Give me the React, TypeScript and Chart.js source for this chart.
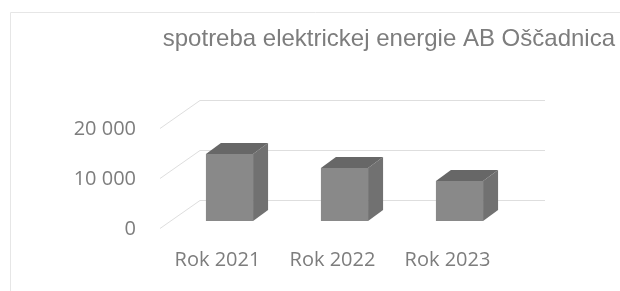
import React, { useEffect, useRef } from "react";
import { Chart, registerables } from "chart.js";

Chart.register(...registerables);

const TITLE = "spotreba elektrickej energie AB Oščadnica";
const categories = ["Rok 2021", "Rok 2022", "Rok 2023"];
const consumption = [13400, 10600, 8000];
const yTickValues = [0, 10000, 20000];
const yTickLabels = ["0", "10 000", "20 000"];

const FRONT_COLOR = "#898989";
const SIDE_COLOR = "#717171";
const TOP_COLOR = "#676767";
const GRID_COLOR = "#dedede";
const TEXT_COLOR = "#7d7d7d";

const BAR_DEPTH = { dx: 15, dy: -11 };
const WALL_OFFSET = { dx: 28, dy: -21 };
const FLOOR_EDGE = { dx: -12, dy: 7 };

const threeDPlugin = {
  id: "threeD",
  beforeDraw(chart: any) {
    const { ctx } = chart;
    ctx.save();
    ctx.fillStyle = "#ffffff";
    ctx.fillRect(0, 0, chart.width, chart.height);
    ctx.strokeStyle = "#e6e6e6";
    ctx.lineWidth = 1;
    ctx.beginPath();
    ctx.moveTo(10.5, chart.height);
    ctx.lineTo(10.5, 12.5);
    ctx.lineTo(chart.width, 12.5);
    ctx.stroke();
    ctx.restore();
  },
  beforeDatasetsDraw(chart: any) {
    const { ctx, chartArea: a, scales } = chart;
    const y = scales.y;
    ctx.save();
    ctx.strokeStyle = GRID_COLOR;
    ctx.lineWidth = 1;
    y.ticks.forEach((t: any) => {
      const py = Math.round(y.getPixelForValue(t.value)) + 0.5;
      ctx.beginPath();
      ctx.moveTo(a.left + FLOOR_EDGE.dx, py + FLOOR_EDGE.dy);
      ctx.lineTo(a.left + WALL_OFFSET.dx, py + WALL_OFFSET.dy);
      ctx.lineTo(a.right + WALL_OFFSET.dx, py + WALL_OFFSET.dy);
      ctx.stroke();
    });
    ctx.restore();
  },
  afterDatasetsDraw(chart: any) {
    const { ctx } = chart;
    const meta = chart.getDatasetMeta(0);
    const { dx, dy } = BAR_DEPTH;
    ctx.save();
    meta.data.forEach((bar: any) => {
      const { x, y, base, width } = bar.getProps(["x", "y", "base", "width"], true);
      const l = x - width / 2;
      const r = x + width / 2;
      ctx.fillStyle = SIDE_COLOR;
      ctx.beginPath();
      ctx.moveTo(r, y);
      ctx.lineTo(r + dx, y + dy);
      ctx.lineTo(r + dx, base + dy);
      ctx.lineTo(r, base);
      ctx.closePath();
      ctx.fill();
      ctx.fillStyle = TOP_COLOR;
      ctx.beginPath();
      ctx.moveTo(l, y);
      ctx.lineTo(l + dx, y + dy);
      ctx.lineTo(r + dx, y + dy);
      ctx.lineTo(r, y);
      ctx.closePath();
      ctx.fill();
    });
    ctx.restore();
  },
  afterDraw(chart: any) {
    const { ctx } = chart;
    ctx.save();
    ctx.fillStyle = TEXT_COLOR;
    ctx.font = "24px 'Liberation Sans'";
    ctx.textAlign = "right";
    ctx.textBaseline = "alphabetic";
    ctx.fillText(TITLE, 615, 46);
    ctx.restore();
  },
};

export default function App() {
  const ref = useRef<HTMLCanvasElement>(null);

  useEffect(() => {
    if (!ref.current) return;
    const font = { family: "'Open Sans'", size: 20 };
    const chart = new Chart(ref.current, {
      type: "bar",
      data: {
        labels: categories,
        datasets: [
          {
            label: TITLE,
            data: consumption,
            backgroundColor: FRONT_COLOR,
            borderWidth: 0,
            categoryPercentage: 1,
            barPercentage: 0.41,
          },
        ],
      },
      options: {
        responsive: false,
        animation: false,
        devicePixelRatio: 1,
        layout: { padding: { top: 121, right: 103, bottom: 0, left: 0 } },
        plugins: {
          legend: { display: false },
          title: { display: false },
          tooltip: { enabled: false },
        },
        scales: {
          x: {
            grid: { display: false, drawTicks: false },
            border: { display: false },
            ticks: { padding: 27, labelOffset: -12, font, color: TEXT_COLOR, maxRotation: 0 },
            afterFit: (s: any) => {
              s.height = 70;
            },
          },
          y: {
            min: 0,
            max: 20000,
            afterBuildTicks: (s: any) => {
              s.ticks = yTickValues.map((v) => ({ value: v }));
            },
            grid: { display: false, drawTicks: false },
            border: { display: false },
            ticks: {
              padding: 36,
              labelOffset: 8,
              font,
              color: TEXT_COLOR,
              callback: (v: any) => yTickLabels[yTickValues.indexOf(Number(v))],
            },
            afterFit: (s: any) => {
              s.width = 172;
            },
          },
        },
      },
      plugins: [threeDPlugin],
    });
    return () => chart.destroy();
  }, []);

  return (
    <div style={{ position: "absolute", left: 0, top: 0, width: 620, height: 291, background: "#fff" }}>
      <canvas ref={ref} width={620} height={291} style={{ display: "block" }} />
    </div>
  );
}
